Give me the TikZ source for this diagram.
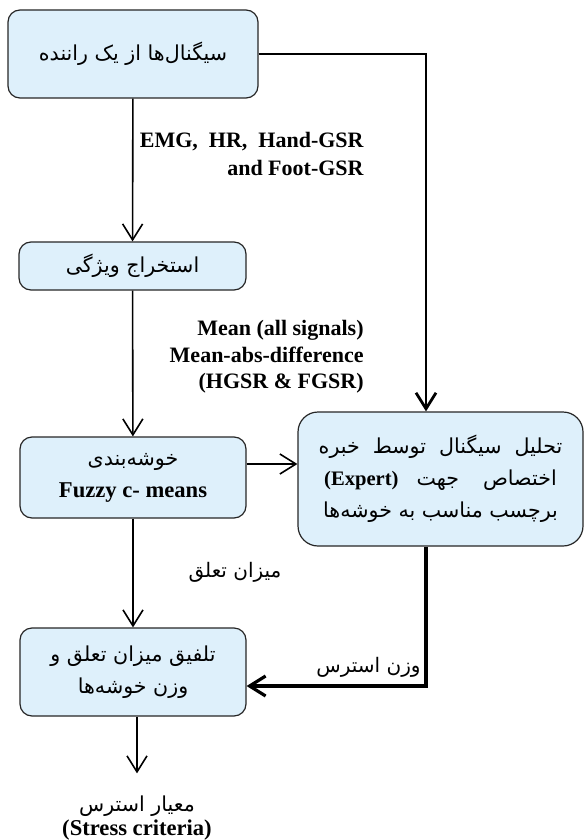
\documentclass[tikz,border=0pt]{standalone}
\usepackage{fontspec}
\setmainfont{Liberation Serif}
\newfontfamily\farsi[Script=Arabic]{DejaVu Sans}
\TeXXeTstate=1
\usetikzlibrary{arrows.meta}
\usetikzlibrary{shapes}
\usetikzlibrary{positioning}
\definecolor{boxfill}{RGB}{222,240,251}
\newcommand{\fa}[1]{{\farsi\beginR #1\endR}}
\newcommand{\en}[1]{{\normalfont\bfseries #1}}
\tikzset{
  lbl/.style={inner sep=0pt,font=\bfseries\fontsize{11}{14}\selectfont},
  falbl/.style={inner sep=0pt,font=\fontsize{10}{14}\selectfont}
}

\begin{document}
\begin{tikzpicture}[x=0.5pt,y=-0.5pt]
        \useasboundingbox (0,0) rectangle (584,840);
        \begin{scope}[every node/.style={rectangle,rounded corners=6pt,draw=black!85,fill=boxfill,
            line width=0.6pt,align=center,inner sep=0pt,font=\fontsize{10.3}{16}\selectfont}]
            \node[minimum width=125pt,minimum height=44pt] (1) at (133,54) {\fa{سیگنال‌ها از یک راننده}};
            \node[minimum width=113.5pt,minimum height=24pt] (2) at (132.5,266) {\fa{استخراج ویژگی}};
            \node[minimum width=113pt,minimum height=40.5pt] (3) at (133,477.5) {\fa{خوشه‌بندی}\\\en{\fontsize{11.3}{16}\selectfont Fuzzy c- means}};
            \node[minimum width=142.5pt,minimum height=67pt,rounded corners=10pt] (4) at (440.5,479)
                {\fa{تحلیل\ \ سیگنال\ \ توسط\ \ خبره}\\
                 \en{(Expert)}\hspace{9pt}\fa{جهت}\hspace{12pt}\fa{اختصاص}\\
                 \fa{برچسب مناسب به خوشه‌ها}};
            \node[minimum width=113pt,minimum height=44pt] (5) at (133,672) {\fa{تلفیق میزان تعلق و}\\\fa{وزن خوشه‌ها}};
        \end{scope}
        \node[align=center,inner sep=0pt,font=\fontsize{10.3}{12}\selectfont] (6) at (137,818)
            {\fa{معیار استرس}\\\en{\fontsize{11.3}{12}\selectfont(Stress criteria)}};
        % labels on the connectors
        \node[lbl,anchor=east,align=right] (7) at (364,154) {EMG,\ \ HR,\ \ Hand-GSR\\and Foot-GSR};
        \node[lbl,anchor=east,align=right,font=\bfseries\fontsize{11}{13.25}\selectfont] (8) at (364,357)
            {Mean (all signals)\\Mean-abs-difference\\(HGSR \& FGSR)};
        \node[falbl] (9) at (235,572) {\fa{میزان تعلق}};
        \node[falbl,anchor=east] (10) at (421,667) {\fa{وزن استرس}};
        \begin{scope}[>={Straight Barb[length=8pt,width=10pt]},
            every edge/.style={draw=black,line width=0.8pt}]
                    \path[->] (1) edge node {} (2);
                    \path[->] (2) edge node {} (3);
                    \path[->] (3) edge node {} (5);
                    \path[->] (5.south -| 6) edge[shorten >=11pt] node {} (6);
                    \path[->] ([yshift=6.75pt]3.east) edge node {} ([yshift=6.75pt]3.east -| 4.west);
                    \draw[->,line width=1.4pt] (1.east) -| ([xshift=-7.25pt]4.north);
                    \draw[->,line width=1.6pt] ([xshift=-7.25pt]4.south) |- ([yshift=-7pt]5.east);
        \end{scope}
    \end{tikzpicture}
\end{document}
